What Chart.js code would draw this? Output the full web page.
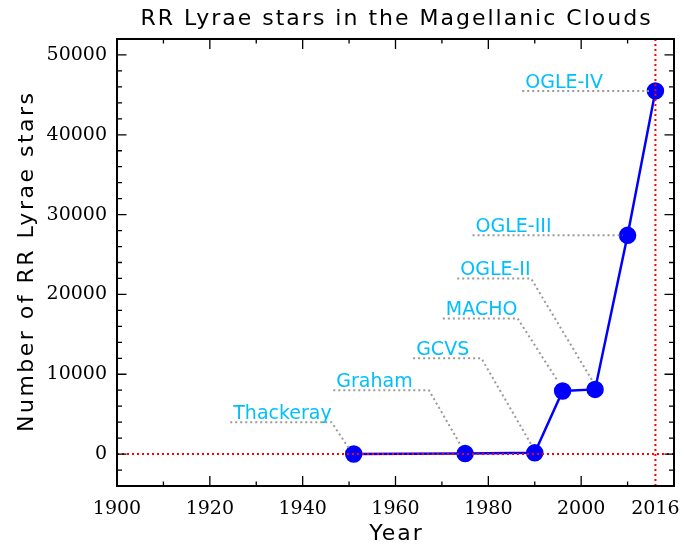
<!DOCTYPE html>
<html>
<head>
<meta charset="utf-8">
<script src="https://cdn.jsdelivr.net/npm/chart.js@4.4.0/dist/chart.umd.min.js"></script>
<style>
  html, body { margin: 0; padding: 0; background: #fff; }
  canvas { display: block; }
</style>
</head>
<body>
<canvas id="chart" width="684" height="547"></canvas>
<script>
// survey epochs and number of RR Lyrae stars known
const YEARS = [1951, 1975, 1990, 1996, 2003, 2010, 2016];
const COUNTS = [10, 60, 150, 7900, 8100, 27400, 45500];

// survey names and their dotted leader lines
const SURVEYS = ['Thackeray', 'Graham', 'GCVS', 'MACHO', 'OGLE-II', 'OGLE-III', 'OGLE-IV'];
const LEADER_X = [
  [1924.4, 1946.2, 1950.1],
  [1946.6, 1967.2, 1973.9],
  [1963.8, 1978.5, 1989.2],
  [1970.2, 1986.3, 1994.9],
  [1973.3, 1989.2, 2002.4],
  [1976.6, 2009.0],
  [1987.3, 2014.6],
];
const LEADER_Y = [
  [4000, 4000, 600],
  [8000, 8000, 1250],
  [12000, 12000, 1250],
  [17000, 17000, 9200],
  [22000, 22000, 9200],
  [27400, 27400],
  [45500, 45500],
];

// axes
const X_RANGE = [1900, 2020];
const Y_RANGE = [-4000, 52000];
const X_LABELS = [1900, 1920, 1940, 1960, 1980, 2000, 2016];
const Y_LABELS = [0, 10000, 20000, 30000, 40000, 50000];
const X_MAJOR = [1900, 1920, 1940, 1960, 1980, 2000, 2020];
const X_MINOR = [1910, 1930, 1950, 1970, 1990, 2010];
const Y_MAJOR = [0, 10000, 20000, 30000, 40000, 50000];
const Y_MINOR = [-2000, 2000, 4000, 6000, 8000, 12000, 14000, 16000, 18000, 22000, 24000, 26000, 28000,
  32000, 34000, 36000, 38000, 42000, 44000, 46000, 48000];
const REF_YEAR = 2016;

const SANS = "'DejaVu Sans', sans-serif";
const SERIF = "'DejaVu Serif', serif";

const leaderSets = LEADER_X.map((xs, i) => ({
  data: xs.map((x, j) => ({ x, y: LEADER_Y[i][j] })),
  showLine: true,
  borderColor: '#999999',
  borderWidth: 2,
  borderDash: [2, 3],
  pointRadius: 0,
}));

const refSets = [
  { data: [{ x: X_RANGE[0], y: 0 }, { x: X_RANGE[1], y: 0 }] },
  { data: [{ x: REF_YEAR, y: Y_RANGE[0] }, { x: REF_YEAR, y: Y_RANGE[1] }] },
].map(d => Object.assign(d, {
  showLine: true, borderColor: '#ff0000', borderWidth: 2, borderDash: [2, 3], pointRadius: 0,
}));

const mainSet = {
  data: YEARS.map((x, i) => ({ x, y: COUNTS[i] })),
  showLine: true,
  borderColor: '#0000ff',
  borderWidth: 2.5,
  backgroundColor: '#0000ff',
  pointBackgroundColor: '#0000ff',
  pointBorderColor: '#0000ff',
  pointRadius: 7.5,
  clip: false,
};

function spaced(ctx, text, x, y, spacing) {
  ctx.letterSpacing = spacing + 'px';
  // letterSpacing adds trailing space too; shift to keep centre
  const w = ctx.measureText(text).width;
  const align = ctx.textAlign;
  ctx.textAlign = 'left';
  let x0 = x;
  if (align === 'center') x0 = x - (w - spacing) / 2;
  ctx.fillText(text, x0, y);
  ctx.textAlign = align;
  ctx.letterSpacing = '0px';
}

const frame = {
  id: 'frame',
  afterDraw(chart) {
    const { ctx, chartArea: a, scales: { x, y } } = chart;
    ctx.save();
    ctx.strokeStyle = '#000';
    ctx.lineWidth = 2;
    ctx.strokeRect(a.left, a.top, a.right - a.left, a.bottom - a.top);

    ctx.lineWidth = 1.3;
    const xt = (vals, len) => vals.forEach(v => {
      const px = x.getPixelForValue(v);
      ctx.beginPath();
      ctx.moveTo(px, a.bottom); ctx.lineTo(px, a.bottom - len);
      ctx.moveTo(px, a.top); ctx.lineTo(px, a.top + len);
      ctx.stroke();
    });
    const yt = (vals, len) => vals.forEach(v => {
      const py = y.getPixelForValue(v);
      ctx.beginPath();
      ctx.moveTo(a.left, py); ctx.lineTo(a.left + len, py);
      ctx.moveTo(a.right, py); ctx.lineTo(a.right - len, py);
      ctx.stroke();
    });
    xt(X_MAJOR, 10); xt(X_MINOR, 4.5);
    yt(Y_MAJOR, 9.5); yt(Y_MINOR, 5);

    // survey labels
    ctx.font = '19px ' + SANS;
    ctx.fillStyle = '#00bfff';
    ctx.textAlign = 'left';
    ctx.textBaseline = 'alphabetic';
    SURVEYS.forEach((s, i) => {
      ctx.fillText(s, x.getPixelForValue(LEADER_X[i][0]) + 3, y.getPixelForValue(LEADER_Y[i][0]) - 3);
    });

    // titles
    ctx.fillStyle = '#000';
    ctx.font = '22px ' + SANS;
    ctx.textAlign = 'center';
    const cx = (a.left + a.right) / 2;
    spaced(ctx, 'RR Lyrae stars in the Magellanic Clouds', cx, 25, 2);
    spaced(ctx, 'Year', cx, 540, 2);
    ctx.translate(33, (a.top + a.bottom) / 2);
    ctx.rotate(-Math.PI / 2);
    spaced(ctx, 'Number of RR Lyrae stars', 0, 0, 2.5);
    ctx.restore();
  }
};

new Chart(document.getElementById('chart'), {
  type: 'scatter',
  data: { datasets: [...refSets, ...leaderSets, mainSet] },
  options: {
    responsive: false,
    animation: false,
    devicePixelRatio: 1,
    layout: { padding: { top: 39, right: 9, left: 0, bottom: 0 } },
    plugins: { legend: { display: false }, tooltip: { enabled: false }, title: { display: false } },
    scales: {
      x: {
        type: 'linear', min: X_RANGE[0], max: X_RANGE[1],
        grid: { display: false, drawTicks: false },
        border: { display: false },
        afterBuildTicks: s => { s.ticks = X_LABELS.map(v => ({ value: v })); },
        afterFit: s => { s.height = 61; s.paddingLeft = 0; s.paddingRight = 0; },
        ticks: {
          autoSkip: false, maxRotation: 0, padding: 12, color: '#000',
          font: { family: SERIF, size: 19 },
          callback: v => String(v),
        },
      },
      y: {
        type: 'linear', min: Y_RANGE[0], max: Y_RANGE[1],
        grid: { display: false, drawTicks: false },
        border: { display: false },
        afterBuildTicks: s => { s.ticks = Y_LABELS.map(v => ({ value: v })); },
        afterFit: s => { s.width = 117; s.paddingTop = 0; s.paddingBottom = 0; },
        ticks: {
          padding: 10, color: '#000',
          font: { family: SERIF, size: 19 },
          callback: v => String(v),
        },
      },
    },
  },
  plugins: [frame],
});
</script>
</body>
</html>
